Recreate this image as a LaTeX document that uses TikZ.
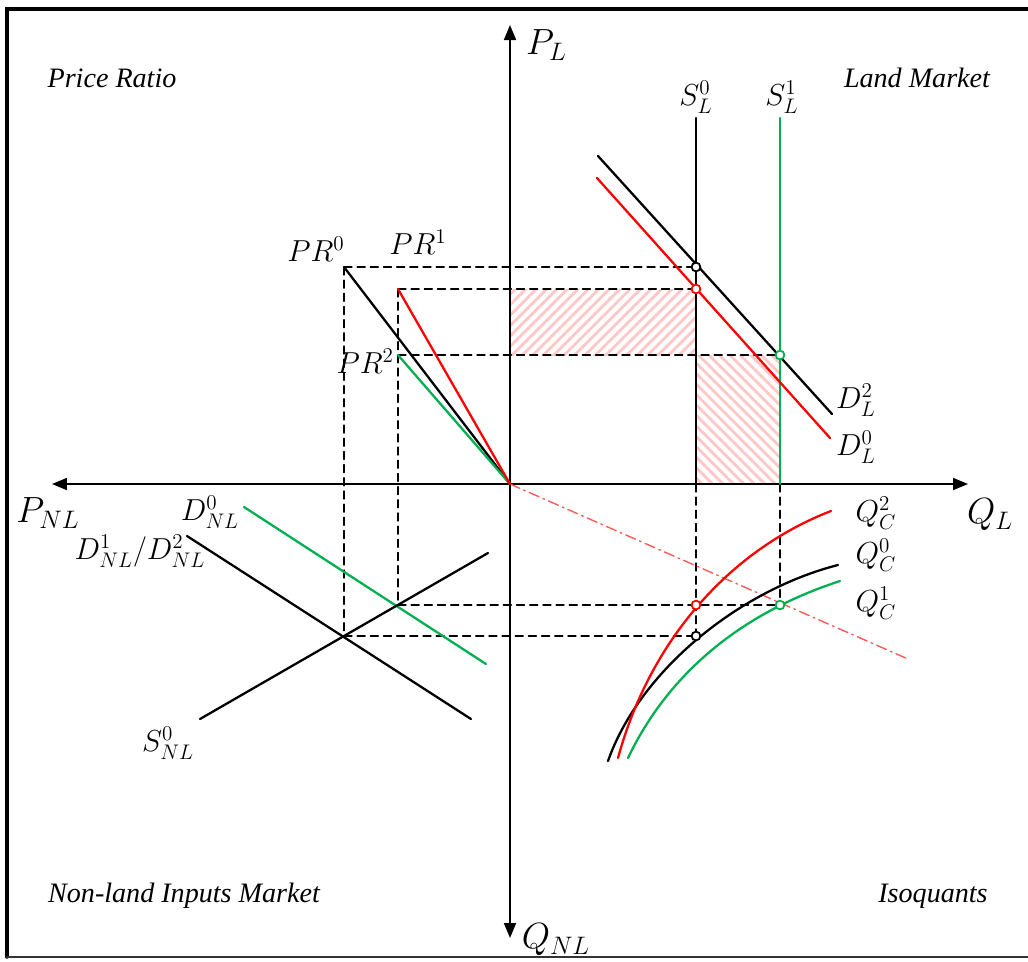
\documentclass[tikz,border=0pt]{standalone}
\usepackage{fontspec}
\setmainfont{Liberation Serif}
\usepackage{tikz}
\usetikzlibrary{arrows.meta,calc,patterns.meta}
\definecolor{lgreen}{RGB}{0,176,80}
\definecolor{lred}{RGB}{255,0,0}

\begin{document}
\begin{tikzpicture}[
  x=0.02cm, y=-0.02cm,
  line cap=round,
  axis/.style={{Triangle[length=3mm,width=2.4mm]}-{Triangle[length=3mm,width=2.4mm]}, line width=1pt},
  curveK/.style={line width=1.3pt, draw=black},
  curveR/.style={line width=1.3pt, draw=lred},
  curveG/.style={line width=1.3pt, draw=lgreen},
  guide/.style={dashed, dash pattern=on 4.5pt off 3pt, line width=0.8pt},
  expand/.style={line width=0.8pt, draw=lred!65, dash pattern=on 6pt off 2.5pt on 1pt off 2.5pt},
  hatchNE/.style={pattern={Lines[angle=45,distance=4.2pt,line width=1.6pt]}, pattern color=lred!22},
  hatchNW/.style={pattern={Lines[angle=-45,distance=4.2pt,line width=1.6pt]}, pattern color=lred!22},
  eqpt/.style={circle, fill=white, line width=1pt, minimum size=5pt, inner sep=0pt},
  quad/.style={font=\fontsize{16}{18}\selectfont\itshape},
  lbl/.style={font=\fontsize{16.5}{18}\selectfont, inner sep=1pt},
  axlbl/.style={font=\fontsize{21}{23}\selectfont, inner sep=1pt},
]
  \useasboundingbox (0,0) rectangle (1028,961);
  % Frame (left, top, bottom)
  \draw[line width=2pt] (1028,9) -- (7,9) -- (7,957);
  \draw[line width=1.2pt, black!80] (7,957) -- (1028,957);

  % Key points
  \coordinate (O) at (510,484);
  \coordinate (pr0) at (344,267);
  \coordinate (pr1) at (398,289);
  \coordinate (pr2) at (398,355);
  \coordinate (eK) at (696,267);
  \coordinate (eR) at (696,289);
  \coordinate (eG) at (780,355);
  \coordinate (nlK) at (344,636);
  \coordinate (nlG) at (398,605);
  \coordinate (qK) at (696,636);
  \coordinate (qR) at (696,605);
  \coordinate (qG) at (780,605);

  % Hatched areas
  \fill[hatchNE] (O |- eR) rectangle (eG -| eR);
  \fill[hatchNW] (eG -| eR) rectangle (O -| eG);

  % Axes
  \coordinate (yTop) at (510,25);
  \coordinate (yBot) at (510,938);
  \coordinate (xLeft) at (52,484);
  \coordinate (xRight) at (968,484);
  \draw[axis] (yBot) -- (yTop);
  \draw[axis] (xLeft) -- (xRight);
  \node[axlbl, anchor=west] (PL) at (524,45) {$P_L$};
  \node[axlbl] (QL) at (990,515) {$Q_L$};
  \node[axlbl] (PNL) at (48,513) {$P_{NL}$};
  \node[axlbl] (QNL) at (556,940) {$Q_{NL}$};

  % Quadrant titles
  \node[quad] (tPR) at (112,78) {Price Ratio};
  \node[quad] (tLM) at (917,78) {Land Market};
  \node[quad] (tNL) at (184,896) {Non-land Inputs Market};
  \node[quad] (tIQ) at (933,896) {Isoquants};

  % Guide lines
  \draw[guide] (pr0) -- (eK);
  \draw[guide] (pr1) -- (eR);
  \draw[guide] (pr2) -- (eG);
  \draw[guide] (pr0) -- (nlK);
  \draw[guide] (pr1) -- (nlG);
  \draw[guide] (nlG) -- (qG);
  \draw[guide] (nlK) -- (qK);
  \draw[guide] (O -| qK) -- (qK);
  \draw[guide] (O -| qG) -- (qG);

  % Expansion path
  \coordinate (expEnd) at (908,659);
  \draw[expand] (O) -- (expEnd);

  % Land market
  \coordinate (sL0) at (696,118);
  \coordinate (sL1) at (780,118);
  \draw[curveK] (sL0) -- (O -| sL0);
  \draw[curveG] (sL1) -- (O -| sL1);
  \node[lbl] (SL0) at (696,97) {$S_L^0$};
  \node[lbl] (SL1) at (782,97) {$S_L^1$};
  \coordinate (dL2a) at (598,156);
  \coordinate (dL2b) at (832,414);
  \coordinate (dL0a) at (597,178);
  \coordinate (dL0b) at (830,438);
  \draw[curveK] (dL2a) -- (dL2b);
  \draw[curveR] (dL0a) -- (dL0b);
  \node[lbl] (DL2) at (856,400) {$D_L^2$};
  \node[lbl] (DL0) at (856,447) {$D_L^0$};

  % Price ratio
  \draw[curveK] (pr0) -- (O);
  \draw[curveG] (pr2) -- (O);
  \draw[curveR] (pr1) -- (O);
  \node[lbl] (PR0) at (316,249) {$PR^0$};
  \node[lbl] (PR1) at (418,242) {$PR^1$};
  \node[lbl, anchor=east] (PR2) at (396,361) {$PR^2$};

  % Non-land inputs market
  \coordinate (dN0a) at (244,507);
  \coordinate (dN0b) at (486,664);
  \coordinate (dN1a) at (187,536);
  \coordinate (dN1b) at (471,719);
  \coordinate (sN0a) at (200,719);
  \coordinate (sN0b) at (488,553);
  \draw[curveG] (dN0a) -- (dN0b);
  \draw[curveK] (dN1a) -- (dN1b);
  \draw[curveK] (sN0a) -- (sN0b);
  \node[lbl] (DN0) at (210,512) {$D_{NL}^0$};
  \node[lbl] (DN1) at (140,551) {$D_{NL}^1/D_{NL}^2$};
  \node[lbl] (SN0) at (168,743) {$S_{NL}^0$};

  % Isoquants
  \coordinate (qR0) at (618,758);
  \coordinate (qR1) at (831,511);
  \coordinate (qK0) at (608,761);
  \coordinate (qK1) at (838,565);
  \coordinate (qG0) at (628,758);
  \coordinate (qG1) at (840,581);
  \draw[curveK] (qK0) .. controls (640,670) and (740,590) .. (qK1);
  \draw[curveG] (qG0) .. controls (670,670) and (745,612) .. (qG1);
  \draw[curveR] (qR0) .. controls (650,640) and (730,550) .. (qR1);
  \node[lbl] (QC2) at (876,513) {$Q_C^2$};
  \node[lbl] (QC0) at (876,555) {$Q_C^0$};
  \node[lbl] (QC1) at (876,603) {$Q_C^1$};

  % Equilibrium points
  \node[eqpt, draw=black] at (eK) {};
  \node[eqpt, draw=lred] at (eR) {};
  \node[eqpt, draw=lgreen] at (eG) {};
  \node[eqpt, draw=lred] at (qR) {};
  \node[eqpt, draw=black] at (qK) {};
  \node[eqpt, draw=lgreen] at (qG) {};
\end{tikzpicture}
\end{document}
